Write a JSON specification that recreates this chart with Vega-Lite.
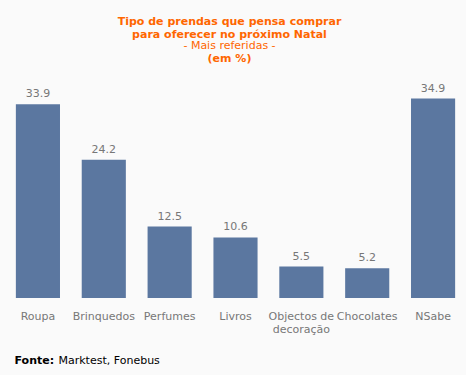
{
  "$schema": "https://vega.github.io/schema/vega-lite/v6.json",
  "width": 461,
  "height": 200,
  "autosize": {"type": "none"},
  "padding": {"left": 5, "right": 0, "top": 98, "bottom": 77},
  "background": "#fafafa",
  "config": {"view": {"stroke": null}, "font": "DejaVu Sans"},
  "title": {
    "text": ["Tipo de prendas que pensa comprar", "para oferecer no próximo Natal"],
    "subtitle": "- Mais referidas -",
    "anchor": "middle",
    "dx": -6,
    "offset": 1,
    "font": "DejaVu Sans",
    "fontSize": 11,
    "fontWeight": "bold",
    "color": "#ff6600",
    "lineHeight": 13,
    "subtitleFont": "DejaVu Sans",
    "subtitleFontSize": 11,
    "subtitleColor": "#ff6600",
    "subtitlePadding": 0
  },
  "data": {
    "values": [
      {"categoria": "Roupa", "valor": 33.9},
      {"categoria": "Brinquedos", "valor": 24.2},
      {"categoria": "Perfumes", "valor": 12.5},
      {"categoria": "Livros", "valor": 10.6},
      {"categoria": "Objectos de decoração", "valor": 5.5},
      {"categoria": "Chocolates", "valor": 5.2},
      {"categoria": "NSabe", "valor": 34.9}
    ]
  },
  "encoding": {
    "x": {
      "field": "categoria",
      "type": "nominal",
      "sort": null,
      "scale": {"paddingInner": 0.33, "paddingOuter": 0.165},
      "axis": {
        "title": "Fonte:",
        "titleFont": "DejaVu Sans",
        "titleFontSize": 11,
        "titleFontWeight": "bold",
        "titleColor": "#000000",
        "titleAlign": "left",
        "titleAnchor": "start",
        "titleBaseline": "middle",
        "titleX": 9,
        "titleY": 62,
        "domain": false,
        "ticks": false,
        "labelAngle": 0,
        "labelPadding": 12,
        "labelFontSize": 11,
        "labelColor": "#777777",
        "labelLineHeight": 13,
        "labelLimit": 0,
        "labelExpr": "datum.label == 'Objectos de decoração' ? ['Objectos de', 'decoração'] : datum.label"
      }
    },
    "y": {
      "field": "valor",
      "type": "quantitative",
      "scale": {"domain": [0, 35], "nice": false}
    }
  },
  "layer": [
    {
      "mark": {"type": "bar", "color": "#5b77a0"},
      "encoding": {
        "y": {
          "field": "valor",
          "type": "quantitative",
          "scale": {"domain": [0, 35], "nice": false},
          "axis": {
            "title": "(em %)",
            "titleAngle": 0,
            "titleFont": "DejaVu Sans",
            "titleFontSize": 11,
            "titleFontWeight": "bold",
            "titleColor": "#ff6600",
            "titleAlign": "center",
            "titleBaseline": "middle",
            "titleX": 224,
            "titleY": -40,
            "domain": false,
            "ticks": false,
            "labels": false,
            "grid": false
          }
        }
      }
    },
    {
      "mark": {"type": "text", "baseline": "alphabetic", "dy": -7, "fontSize": 11, "color": "#777777", "font": "DejaVu Sans"},
      "encoding": {
        "text": {"field": "valor", "type": "quantitative", "format": ".1f"},
        "y": {
          "field": "valor",
          "type": "quantitative",
          "scale": {"domain": [0, 35], "nice": false},
          "axis": {
            "orient": "right",
            "title": "Marktest, Fonebus",
            "titleAngle": 0,
            "titleFont": "DejaVu Sans",
            "titleFontSize": 11,
            "titleFontWeight": "normal",
            "titleColor": "#000000",
            "titleAlign": "left",
            "titleBaseline": "middle",
            "titleX": -408,
            "titleY": 262,
            "domain": false,
            "ticks": false,
            "labels": false,
            "grid": false
          }
        }
      }
    }
  ],
  "resolve": {"axis": {"y": "independent"}}
}
